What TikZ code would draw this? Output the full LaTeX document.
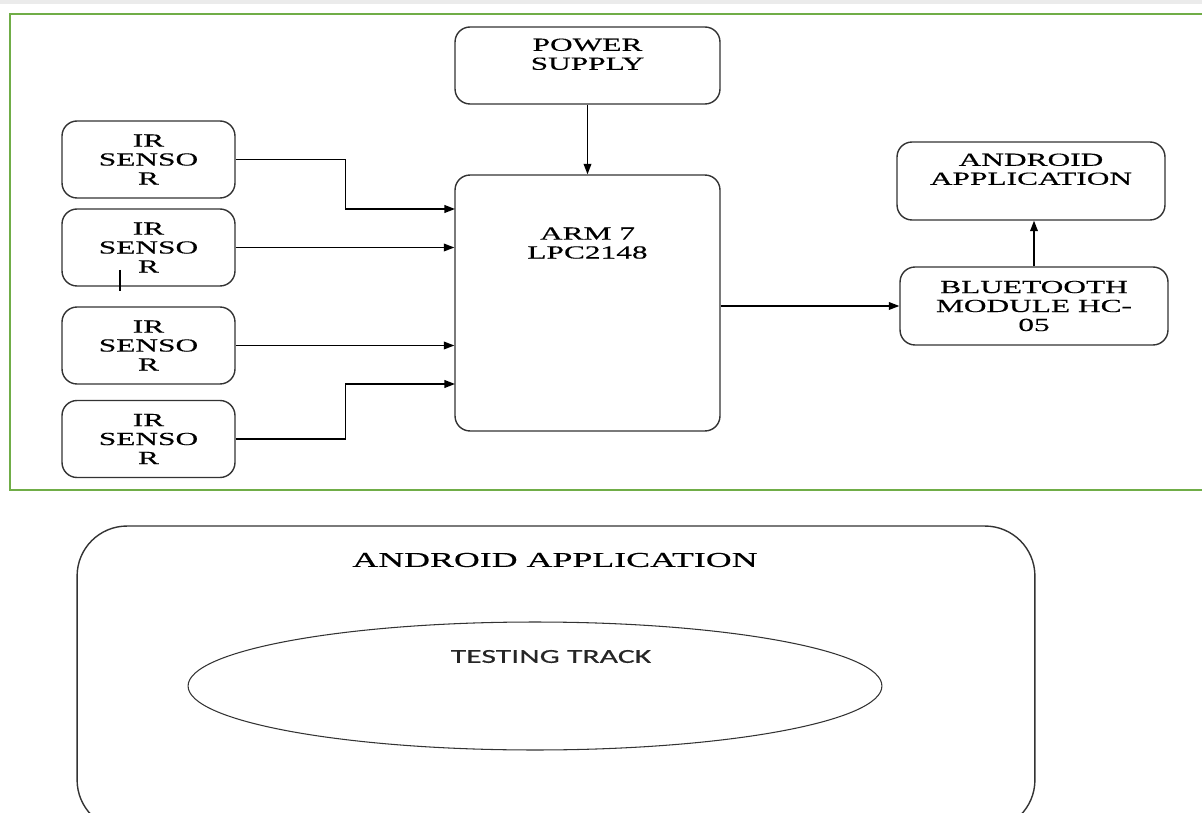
\documentclass[tikz,border=0pt]{standalone}
\usepackage{fontspec}
\newfontfamily\blkfont[FakeStretch=1.7,FakeBold=0.4]{Liberation Serif}
\newfontfamily\trkfont[FakeStretch=1.6,FakeBold=0.3]{Carlito}
\usetikzlibrary{arrows.meta,shapes.geometric}
\definecolor{framegreen}{HTML}{70AD47}
\begin{document}
\begin{tikzpicture}[x=0.02cm, y=-0.02cm,
    blk/.style={draw=black!80, line width=0.8pt, rounded corners=0.3cm, inner sep=0pt, align=center,
        font=\blkfont\fontsize{10.5}{10.8}\selectfont},
    lbl/.style={align=center, inner sep=0pt, anchor=north, font=\blkfont\fontsize{10.5}{10.8}\selectfont},
    con/.style={line width=0.8pt, -{Triangle[length=6pt,width=4.4pt]}}]
\useasboundingbox (0,0) rectangle (1202,813);
\fill[black!8] (0,0) rectangle (1202,4);
\draw[framegreen, line width=0.9pt] (1210,14) -- (10,14) -- (10,490) -- (1210,490);

\node[blk, minimum width=5.3cm, minimum height=1.54cm,
    label={[lbl, yshift=-6.8pt]north:{POWER\\SUPPLY}}] (power) at (587.5,65.5) {};
\node[blk, minimum width=5.3cm, minimum height=5.12cm,
    label={[lbl, yshift=-30pt]north:{ARM 7\\LPC2148}}] (arm) at (587.5,303) {};
\node[blk, minimum width=5.36cm, minimum height=1.56cm,
    label={[lbl, yshift=-6.8pt]north:{ANDROID\\APPLICATION}}] (android) at (1031,181) {};
\node[blk, minimum width=5.36cm, minimum height=1.56cm] (bt) at (1034,306) {BLUETOOTH\\MODULE HC-\\05};

\foreach \y [count=\i] in {159.5,247.5,345.5,439}
    {
        \node[blk, minimum width=3.46cm, minimum height=1.54cm] (ir\i) at (148.5,\y) {IR\\SENSO\\R};
    }

\coordinate (in1) at (455,209);
\coordinate (in4) at (455,384);

\draw[con] (power.south) -- (arm.north);
\draw[con] (ir1.east) -- ++(110,0) |- (in1);
\draw[con] (ir2.east) -- (ir2.east -| arm.west);
\draw[con] (ir3.east) -- (ir3.east -| arm.west);
\draw[con] (ir4.east) -- ++(110,0) |- (in4);
\draw[con] (arm.east |- bt.west) -- (bt.west);
\draw[con] (bt.north) -- (bt.north |- android.south);
\draw[line width=0.7pt] (120,270) -- (120,291);

\node[draw=black!80, line width=0.8pt, rounded corners=1cm, inner sep=0pt,
    minimum width=19.16cm, minimum height=6.08cm] (app) at (556,678) {};
\node[font=\blkfont\fontsize{12}{14}\selectfont, inner sep=0pt] (apptitle) at (555,560) {ANDROID APPLICATION};
\node[draw=black!80, line width=0.6pt, ellipse, inner sep=0pt,
    minimum width=13.88cm, minimum height=2.56cm] (track) at (535,686) {};
\node[font=\trkfont\fontsize{11.3}{13}\selectfont, inner sep=0pt, text=black!85] (tracktxt) at (551,656.5) {TESTING TRACK};
\end{tikzpicture}
\end{document}
